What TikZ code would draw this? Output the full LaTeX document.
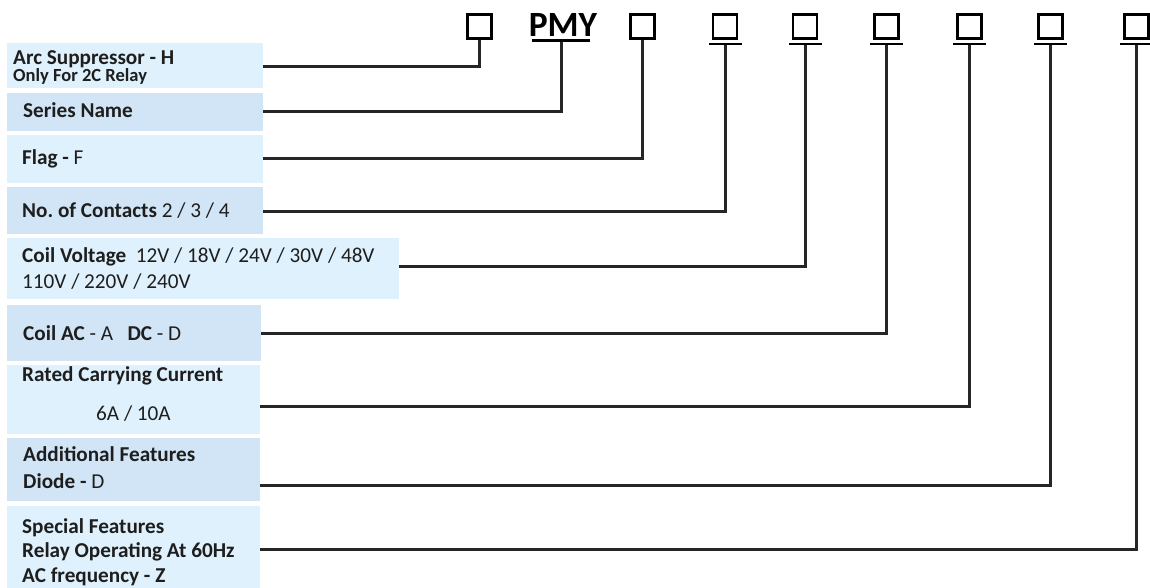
\documentclass[tikz,border=0pt]{standalone}
\usepackage{fontspec}
\setmainfont{Carlito}
\frenchspacing
\definecolor{lightb}{RGB}{223,241,252}
\definecolor{darkb}{RGB}{209,229,246}
\definecolor{ink}{RGB}{30,30,30}
\definecolor{wire}{RGB}{38,38,38}
\begin{document}
\begin{tikzpicture}[x=1pt,y=-1pt,
  panel/.style={rectangle,inner sep=0pt,anchor=north west,draw=none},
  lbl/.style={anchor=base west,inner sep=0pt,text=ink,font=\fontsize{21.2}{24}\selectfont},
  sq/.style={rectangle,draw=black,line width=2.2pt,minimum size=24pt,inner sep=0pt},
  uline/.style={rectangle,fill=black,inner sep=0pt,minimum width=33pt,minimum height=2.6pt},
  wirestyle/.style={draw=wire,line width=3pt}]
\useasboundingbox (0,0) rectangle (1150,588);
% panels
\node[panel,fill=lightb,minimum width=256pt,minimum height=45pt] (b1) at (7,43) {};
\node[panel,fill=darkb,minimum width=256pt,minimum height=38pt] (b2) at (7,93) {};
\node[panel,fill=lightb,minimum width=256pt,minimum height=48pt] (b3) at (7,135) {};
\node[panel,fill=darkb,minimum width=256pt,minimum height=47pt] (b4) at (7,187) {};
\node[panel,fill=lightb,minimum width=392pt,minimum height=61pt] (b5) at (7,238) {};
\node[panel,fill=darkb,minimum width=254pt,minimum height=56pt] (b6) at (7,305) {};
\node[panel,fill=lightb,minimum width=253pt,minimum height=69pt] (b7) at (7,365) {};
\node[panel,fill=darkb,minimum width=253pt,minimum height=63pt] (b8) at (7,438) {};
\node[panel,fill=lightb,minimum width=253pt,minimum height=84pt] (b9) at (7,506) {};
% labels
\node[lbl] (t1a) at (13,65) {\bfseries Arc Suppressor - H};
\node[lbl,font=\fontsize{18.5}{20}\selectfont] (t1b) at (13,82) {\bfseries Only For 2C Relay};
\node[lbl] (t2) at (23,118) {\bfseries Series Name};
\node[lbl] (t3) at (22,165) {\textbf{Flag -} F};
\node[lbl] (t4) at (22,217) {\textbf{No. of Contacts} 2 / 3 / 4};
\node[lbl] (t5a) at (22,262) {\textbf{Coil Voltage}\ \ 12V / 18V / 24V / 30V / 48V};
\node[lbl] (t5b) at (22,288) {110V / 220V / 240V};
\node[lbl] (t6) at (23,340) {\textbf{Coil AC} - A\ \ \ \textbf{DC} - D};
\node[lbl] (t7a) at (22,381) {\bfseries Rated Carrying Current};
\node[lbl] (t7b) at (96,420) {6A / 10A};
\node[lbl] (t8a) at (23,461) {\bfseries Additional Features};
\node[lbl] (t8b) at (23,488) {\textbf{Diode -} D};
\node[lbl] (t9a) at (22,533) {\bfseries Special Features};
\node[lbl] (t9b) at (22,557) {\bfseries Relay Operating At 60Hz};
\node[lbl] (t9c) at (22,582) {\bfseries AC frequency - Z};
% code row
\node[sq] (q1) at (479.5,26.5) {};
\node[anchor=base,inner sep=0pt,text=black,font=\fontsize{35.5}{38}\selectfont\bfseries] (pmy) at (563,37) {PMY};
\node[uline,minimum width=58pt] (u2) at (561,40.5) {};
\node[sq] (q3) at (642.5,26.5) {};
\node[sq] (q4) at (725,26.5) {};
\node[uline] (u4) at (725,44) {};
\node[sq] (q5) at (805,26.5) {};
\node[uline] (u5) at (805,44) {};
\node[sq] (q6) at (886.5,26.5) {};
\node[uline] (u6) at (886.5,44) {};
\node[sq] (q7) at (969.5,26.5) {};
\node[uline] (u7) at (969.5,44) {};
\node[sq] (q8) at (1050.5,26.5) {};
\node[uline] (u8) at (1050.5,44) {};
\node[sq] (q9) at (1136.5,26.5) {};
\node[uline] (u9) at (1136.5,44) {};
% connector starts
\coordinate (s1) at (263,66.5);
\coordinate (s2) at (263,112);
\coordinate (s3) at (263,159);
\coordinate (s4) at (263,211.5);
\coordinate (s5) at (399,266);
\coordinate (s6) at (261,333);
\coordinate (s7) at (260,406);
\coordinate (s8) at (260,485);
\coordinate (s9) at (260,549);
% connectors
\draw[wirestyle] (s1) -| (q1.south);
\draw[wirestyle] (s2) -| (u2.south);
\draw[wirestyle] (s3) -| (q3.south);
\draw[wirestyle] (s4) -| (u4.south);
\draw[wirestyle] (s5) -| (u5.south);
\draw[wirestyle] (s6) -| (u6.south);
\draw[wirestyle] (s7) -| (u7.south);
\draw[wirestyle] (s8) -| (u8.south);
\draw[wirestyle] (s9) -| (u9.south);
\end{tikzpicture}
\end{document}
